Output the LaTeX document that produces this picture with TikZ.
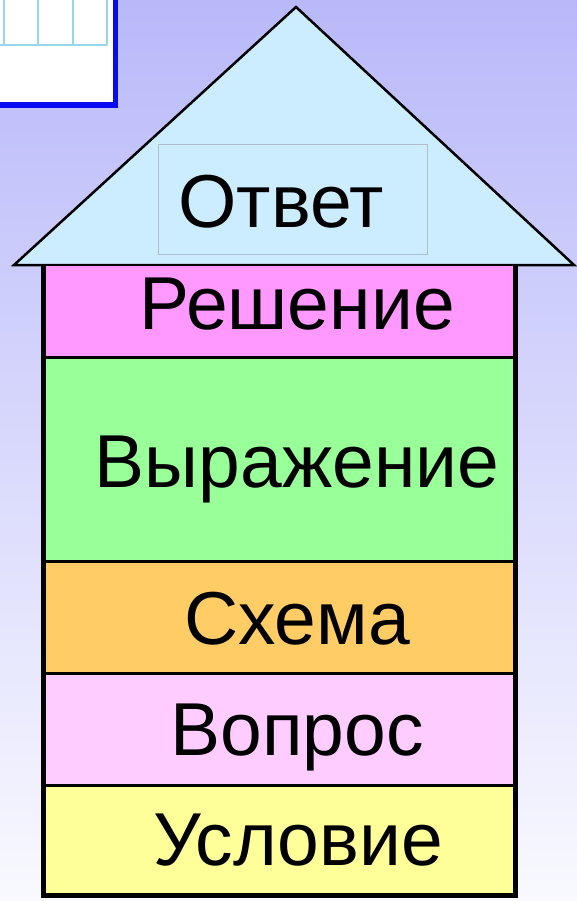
\documentclass[tikz,border=0pt]{standalone}
\usepackage{fontspec}
\setmainfont{Liberation Sans}
\definecolor{bgtop}{RGB}{185,185,250}
\definecolor{bgbottom}{RGB}{249,249,255}
\definecolor{widgetblue}{RGB}{10,10,240}
\definecolor{gridblue}{RGB}{150,215,235}
\definecolor{roofblue}{RGB}{204,236,255}
\definecolor{boxgray}{RGB}{175,190,205}
\definecolor{reshenie}{RGB}{255,153,255}
\definecolor{vyrazhenie}{RGB}{153,255,153}
\definecolor{skhema}{RGB}{255,204,102}
\definecolor{vopros}{RGB}{255,204,255}
\definecolor{uslovie}{RGB}{255,255,153}
\begin{document}
\begin{tikzpicture}[x=1pt,y=-1pt]
        \tikzset{every node/.style={inner sep=0pt,anchor=base,font=\fontsize{75}{82}\selectfont}}
        \useasboundingbox (0,0) rectangle (577,901);
        \shade [top color=bgtop, bottom color=bgbottom] (0,0) rectangle (577,901);
        % widget in the corner
        \fill [white] (0,0) rectangle (115,105);
        \draw [gridblue, line width=1.2pt] (0,45) -- (107,45);
        \foreach \x in {4,38,73,107}
            \draw [gridblue, line width=1.2pt] (\x,0) -- (\x,45);
        \draw [widgetblue, line width=5.5pt] (0,105) -- (115.5,105) -- (115.5,0);
        % roof
        \draw [black, fill=roofblue, line width=2.5pt, line join=miter] (14,265) -- (296,7) -- (574,265) -- cycle;
        \draw [boxgray, line width=0.8pt] (158,144) rectangle (427,254);
        \node (otvet) at (281,228) {Ответ};
        % floors
        \fill [reshenie] (43,265) rectangle (515,357);
        \fill [vyrazhenie] (43,357) rectangle (515,561);
        \fill [skhema] (43,561) rectangle (515,673);
        \fill [vopros] (43,673) rectangle (515,785);
        \fill [uslovie] (43,785) rectangle (515,895);
        \foreach \y in {357,561,673,785}
            \draw [black, line width=3pt] (43,\y) -- (515,\y);
        \draw [black, line width=2.5pt] (14,265) -- (574,265);
        \draw [black, line width=5pt] (43,265) -- (43,895) -- (515,895) -- (515,265);
        \node (reshenie) at (297,329) {Решение};
        \node (vyrazhenie) at (297,487) {Выражение};
        \node (skhema) at (297,644) {Схема};
        \node (vopros) at (297,755) {Вопрос};
        \node (uslovie) at (298,865) {Условие};
\end{tikzpicture}
\end{document}
